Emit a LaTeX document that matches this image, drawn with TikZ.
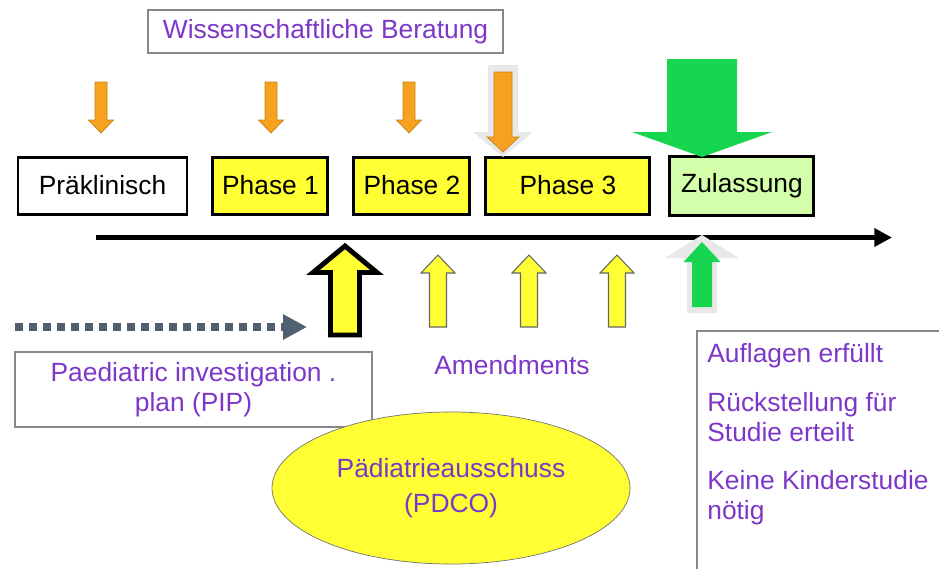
\documentclass[tikz,border=0pt]{standalone}
\usepackage{fontspec}
\setmainfont{Liberation Sans}
\usetikzlibrary{positioning,arrows.meta,shapes.geometric}

\definecolor{boxYellow}{RGB}{255,255,51}
\definecolor{paleGreen}{RGB}{212,255,170}
\definecolor{adviceOrange}{RGB}{247,162,30}
\definecolor{okGreen}{RGB}{22,214,80}
\definecolor{textPurple}{RGB}{125,55,200}
\definecolor{frameGray}{RGB}{135,135,135}
\definecolor{shadowGray}{RGB}{232,232,232}
\definecolor{pipBlue}{RGB}{80,96,112}

% block arrow: [style]{x}{tail y}{head base y}{tip y}{half shaft}{half head}
\newcommand{\blockarrow}[7][]{%
  \path[#1] ({#2-#6},#3) -- ({#2+#6},#3) -- ({#2+#6},#4) -- ({#2+#7},#4)
    -- (#2,#5) -- ({#2-#7},#4) -- ({#2-#6},#4) -- cycle;}

\tikzset{
  phasebox/.style={draw, line width=1.7pt, fill=boxYellow, minimum height=1.14cm, inner sep=0pt},
  graybox/.style={draw=frameGray, line width=0.9pt, text=textPurple, inner sep=0pt},
  purplelabel/.style={text=textPurple, inner sep=0pt},
  advicearrow/.style={fill=adviceOrange, draw=adviceOrange!80!black, line width=0.4pt},
  shadowarrow/.style={fill=shadowGray},
  approvalarrow/.style={fill=okGreen},
  amendarrow/.style={fill=boxYellow, draw=black!60, line width=0.6pt},
  piparrow/.style={fill=boxYellow, draw=black, line width=2.8pt},
  timeline/.style={line width=3.4pt, -{Triangle[length=10pt,width=10pt]}},
  pipline/.style={pipBlue, line width=4.5pt, dash pattern=on 0.16cm off 0.12cm,
    -{Triangle[length=0.48cm,width=0.48cm]}}
}

\begin{document}
\begin{tikzpicture}[font=\fontsize{15}{17}\selectfont]
  \useasboundingbox (0,0) rectangle (18.78,-11.36);

  % Scientific advice
  \node[graybox, minimum width=7.1cm, minimum height=0.86cm] (advice) at (6.51,-0.63) {Wissenschaftliche Beratung};

  % Phases
  \node[phasebox, fill=white, minimum width=3.38cm] (prae) at (2.05,-3.71) {Präklinisch};
  \node[phasebox, minimum width=2.3cm, right=0.46cm of prae] (phase1) {Phase 1};
  \node[phasebox, minimum width=2.32cm, right=0.46cm of phase1] (phase2) {Phase 2};
  \node[phasebox, minimum width=3.28cm, right=0.26cm of phase2] (phase3) {Phase 3};
  \node[phasebox, fill=paleGreen, minimum width=2.88cm, minimum height=1.18cm, right=0.34cm of phase3] (approval) {Zulassung};

  % Timeline
  \coordinate (tl start) at (1.92,-4.75);
  \coordinate (tl end) at (17.84,-4.75);
  \draw[timeline] (tl start) -- (tl end);

  % Arrows from above
  \foreach \x in {2.02,5.42,8.18} {
    \blockarrow[advicearrow]{\x}{-1.64}{-2.4}{-2.66}{0.12}{0.25}
  }
  \blockarrow[shadowarrow]{10.06}{-1.3}{-2.64}{-3.14}{0.3}{0.6}
  \blockarrow[advicearrow]{10.06}{-1.44}{-2.74}{-3.04}{0.18}{0.32}
  \blockarrow[approvalarrow]{14.04}{-1.18}{-2.64}{-3.14}{0.7}{1.4}

  % Arrows from below
  \blockarrow[piparrow]{6.9}{-6.7}{-5.45}{-4.92}{0.29}{0.64}
  \foreach \x in {8.76,10.58,12.34} {
    \blockarrow[amendarrow]{\x}{-6.54}{-5.46}{-5.1}{0.17}{0.34}
  }
  \blockarrow[shadowarrow]{14.04}{-6.26}{-5.16}{-4.7}{0.3}{0.74}
  \blockarrow[approvalarrow]{14.04}{-6.14}{-5.24}{-4.84}{0.2}{0.37}

  % PIP
  \coordinate (pip start) at (0.3,-6.54);
  \coordinate (pip end) at (6.14,-6.54);
  \draw[pipline] (pip start) -- (pip end);
  \node[graybox, minimum width=7.14cm, minimum height=1.5cm, align=center] (pip) at (3.87,-7.79) {Paediatric investigation .\\plan (PIP)};

  \node[purplelabel] (amend) at (10.24,-7.3) {Amendments};

  % PDCO
  \node[ellipse, draw=black!55, fill=boxYellow, minimum width=7.16cm, minimum height=3.04cm,
    text=textPurple, align=center, inner sep=0pt] (pdco) at (9.02,-9.76) {Pädiatrieausschuss\\[3pt](PDCO)};

  % Outcomes
  \draw[frameGray, line width=0.9pt] (13.94,-11.6) |- (19,-6.62);
  \node[purplelabel, anchor=north west, align=left] (outcome) at (14.14,-6.87)
    {Auflagen erfüllt\\[0.37cm]Rückstellung für\\Studie erteilt\\[0.37cm]Keine Kinderstudie\\nötig};
\end{tikzpicture}
\end{document}
